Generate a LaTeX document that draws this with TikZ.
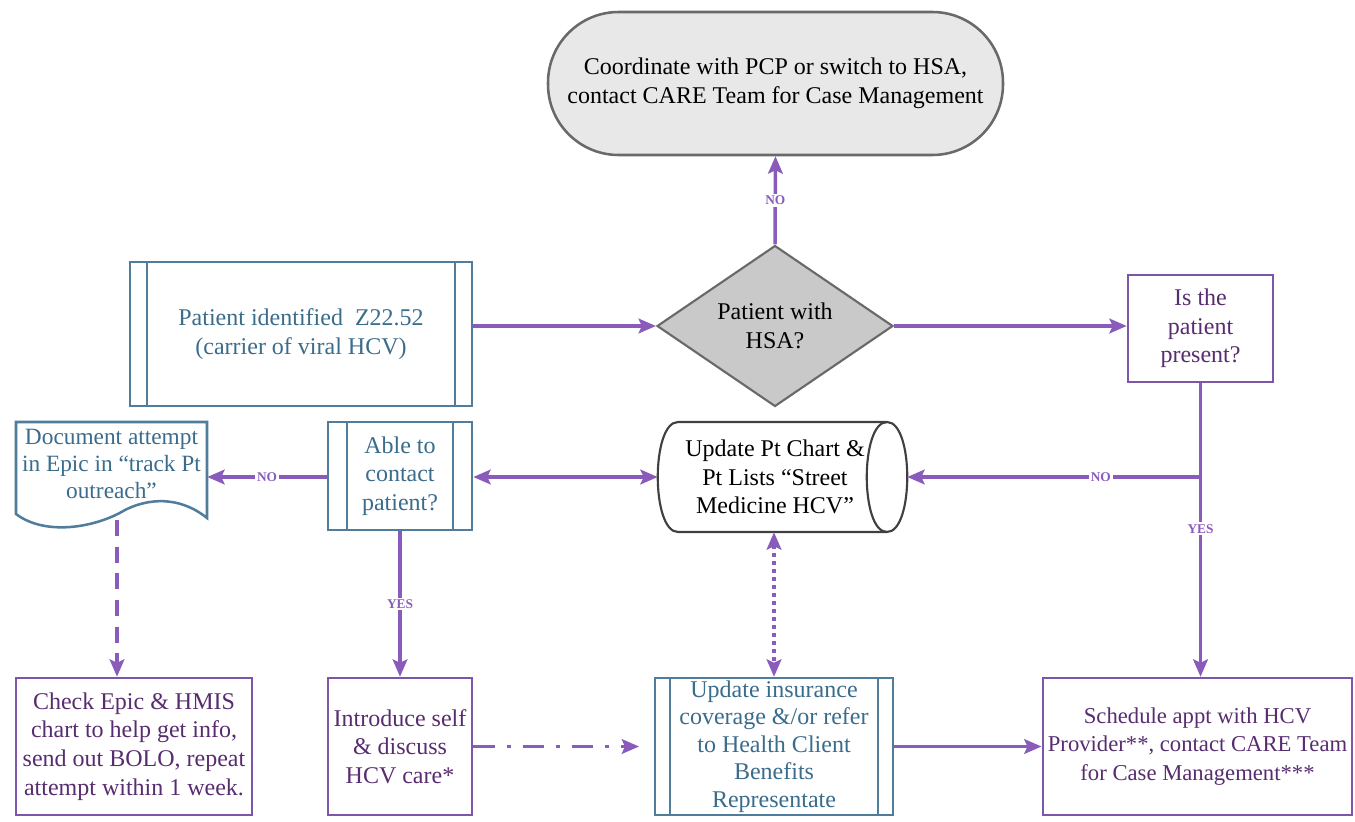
\documentclass[tikz,border=0pt]{standalone}
\usepackage{fontspec}
\setmainfont{Liberation Serif}
\usetikzlibrary{shapes.geometric,arrows.meta,calc}
\definecolor{arr}{RGB}{137,92,188}
\definecolor{pborder}{RGB}{125,85,170}
\definecolor{ptext}{RGB}{88,45,112}
\definecolor{bborder}{RGB}{80,125,155}
\definecolor{btext}{RGB}{58,108,140}
\definecolor{gborder}{RGB}{105,105,105}
\tikzset{
 base/.style={align=center, font=\fontsize{18}{21.5}\selectfont, inner sep=1pt},
 pbox/.style={base, draw=pborder, line width=1.9pt, fill=white, text=ptext},
 bbox/.style={base, draw=bborder, line width=1.9pt, fill=white, text=btext},
 predef/.style={path picture={\draw[bborder, line width=1.5pt]
   ([xshift=#1]path picture bounding box.north west) -- ([xshift=#1]path picture bounding box.south west)
   ([xshift=-#1]path picture bounding box.north east) -- ([xshift=-#1]path picture bounding box.south east);}},
 tip/.tip={Stealth[length=13pt,width=11pt,inset=2.5pt]},
 conn/.style={draw=arr, line width=2.6pt, -tip},
 dconn/.style={draw=arr, line width=2.6pt, tip-tip},
 lab/.style={fill=white, text=arr, font=\fontsize{10}{10}\selectfont\bfseries, inner sep=1.5pt}
}
\begin{document}
\begin{tikzpicture}[x=0.75pt,y=-0.75pt]
\useasboundingbox (0,0) rectangle (1355,821);
% nodes
\node[base, draw=gborder, line width=1.9pt, fill=gray!18, text=black, rounded corners=53pt,
      minimum width=341.25pt, minimum height=107.25pt] (term) at (775.5,83.5)
      {Coordinate with PCP or switch to HSA,\\contact CARE Team for Case Management};
\node[base, diamond, draw=gborder, line width=1.6pt, fill=gray!42, text=black,
      minimum width=177pt, minimum height=92.25pt, inner sep=0pt] (diam) at (775,326)
      {Patient with\\HSA?};
\node[bbox, predef=12.75pt, minimum width=256.5pt, minimum height=108pt] (pid) at (301,334)
      {Patient identified\ \ Z22.52\\(carrier of viral HCV)};
\node[pbox, minimum width=108.75pt, minimum height=80.25pt] (present) at (1200.5,328.5)
      {Is the\\patient\\present?};
% cylinder shape
\node[base, minimum width=186.75pt, minimum height=82.5pt] (cyl) at (782.5,477) {};
\draw[black!75, line width=1.6pt, fill=white] (678,422) -- (887,422) .. controls (914,422) and (914,532) .. (887,532)
   -- (678,532) .. controls (651,532) and (651,422) .. (678,422) -- cycle;
\draw[black!75, line width=1.6pt] (887,532) .. controls (860,532) and (860,422) .. (887,422);
\node[base, text=black] (cyltext) at (775,477) {Update Pt Chart \&\\Pt Lists “Street\\Medicine HCV”};
\node[bbox, predef=14pt, minimum width=108pt, minimum height=81pt] (able) at (400,476)
      {Able to\\contact\\patient?};
% document shape
\node[base, minimum width=143.25pt, minimum height=72pt] (doc) at (111.5,470) {};
\draw[bborder, line width=1.9pt, fill=white] (16,422) -- (207,422) -- (207,518)
   .. controls (185,500) and (155,495) .. (125,510)
   .. controls (95,528) and (45,536) .. (16,514) -- cycle;
\node[base, text=btext, font=\fontsize{17.5}{20.5}\selectfont] (doctext) at (111.5,464) {Document attempt\\in Epic in “track Pt\\outreach”};
\node[pbox, minimum width=177pt, minimum height=102.75pt] (check) at (134,746.5)
      {Check Epic \& HMIS\\chart to help get info,\\send out BOLO, repeat\\attempt within 1 week.};
\node[pbox, minimum width=108pt, minimum height=102.75pt] (intro) at (400,746.5)
      {Introduce self\\\& discuss\\HCV care*};
\node[bbox, predef=11pt, minimum width=178.5pt, minimum height=102.75pt, font=\fontsize{18}{20.6}\selectfont] (ins) at (774,746.5)
      {Update insurance\\coverage \&/or refer\\to Health Client\\Benefits\\Representate};
\node[pbox, minimum width=232pt, minimum height=102.75pt, font=\fontsize{17}{21.5}\selectfont] (sched) at (1197.5,746.5)
      {Schedule appt with HCV\\Provider**, contact CARE Team\\for Case Management***};
% connectors
\coordinate (j) at (present.south |- cyl.east);
\coordinate (dtop) at (117,520);
\draw[conn] (diam.north) -- node[lab]{NO} (term.south);
\draw[conn] (pid.east |- diam.west) -- (diam.west);
\draw[conn] (diam.east) -- (present.west |- diam.east);
\draw[draw=arr, line width=2.6pt] (present.south) -- (j);
\draw[conn] (j) -- node[lab, pos=0.34]{NO} (cyl.east);
\draw[conn] (j) -- node[lab, pos=0.26]{YES} (sched.north -| j);
\draw[dconn] (able.east |- cyl.west) -- (cyl.west);
\draw[conn] (able.west |- cyl.west) -- node[lab]{NO} (doc.east |- cyl.west);
\draw[conn, dash pattern=on 12pt off 8pt] (dtop) -- (dtop |- check.north);
\draw[conn] (able.south) -- node[lab]{YES} (intro.north);
\draw[conn, dash pattern=on 16pt off 9pt on 3pt off 9pt, shorten >=11pt] (intro.east) -- (ins.west);
\draw[dconn, dash pattern=on 3pt off 3pt] (ins.north |- cyl.south) -- (ins.north);
\draw[conn] (ins.east) -- (sched.west);
\end{tikzpicture}
\end{document}
